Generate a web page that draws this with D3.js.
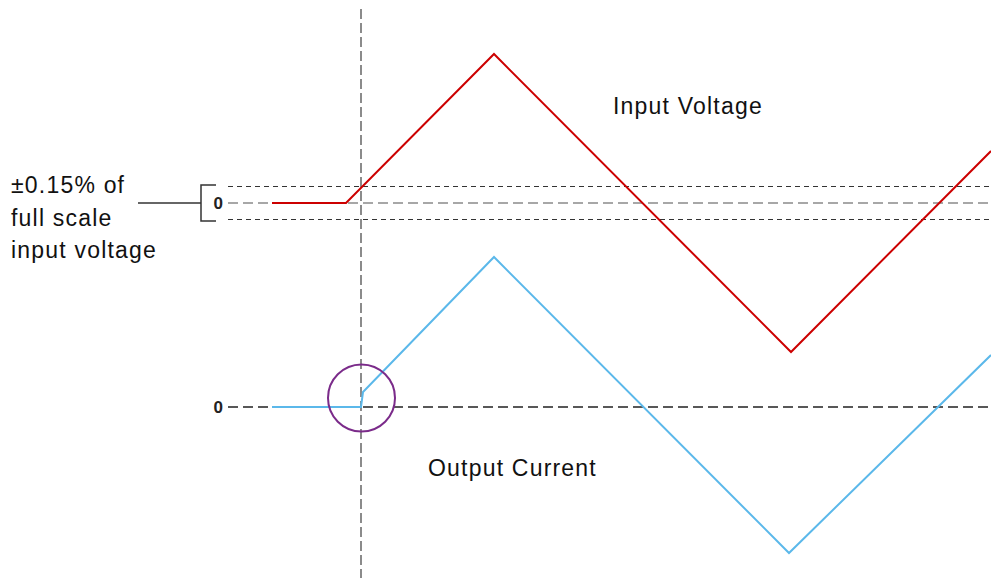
<!DOCTYPE html>
<html>
<head>
<meta charset="utf-8">
<script src="https://cdn.jsdelivr.net/npm/d3@7"></script>
<style>
  body { margin: 0; background: #fff; }
  text { font-family: Arial, "Liberation Sans", sans-serif; }
</style>
</head>
<body>
<div id="chart"></div>
<script>
// time in arbitrary units, t = 0 is the trigger (vertical dashed line)
const voltageTime = [-0.89, -0.15, 1.33, 4.30, 6.30];
const voltageValues = [0, 0, 1.49, -1.49, 0.52];

const currentTime = [-0.89, 0, 0.02, 1.33, 4.28, 6.30];
const currentValues = [0, 0, 0.15, 1.50, -1.46, 0.52];

const band = 0.165; // +-0.15% of full scale, drawn around zero
const zeroTicks = [0];
const labelLines = ["±0.15% of", "full scale", "input voltage"];
const seriesLabels = ["Input Voltage", "Output Current"];

const width = 991, height = 578;

const svg = d3.select("#chart")
  .append("svg")
  .attr("width", width)
  .attr("height", height);

const xScale = d3.scaleLinear()
  .domain([-1, 6.3])
  .range([261, 991]);

const yV = d3.scaleLinear()
  .domain([-2, 2])
  .range([403, 3]);

const yI = d3.scaleLinear()
  .domain([-2, 2])
  .range([607, 207]);

const x0 = 228; // where the dashed reference lines start

// reference lines for voltage band
svg.append("line")
  .attr("x1", x0).attr("x2", width)
  .attr("y1", yV(0)).attr("y2", yV(0))
  .attr("stroke", "#8a8a8a").attr("stroke-width", 1.5)
  .attr("stroke-dasharray", "10,5");

[band, -band].forEach(b => {
  svg.append("line")
    .attr("x1", x0).attr("x2", width)
    .attr("y1", yV(b)).attr("y2", yV(b))
    .attr("stroke", "#333").attr("stroke-width", 1)
    .attr("stroke-dasharray", "5,4");
});

// current zero line
svg.append("line")
  .attr("x1", x0).attr("x2", width)
  .attr("y1", yI(0)).attr("y2", yI(0))
  .attr("stroke", "#222").attr("stroke-width", 1.5)
  .attr("stroke-dasharray", "10,5");

// vertical trigger line
svg.append("line")
  .attr("x1", xScale(0)).attr("x2", xScale(0))
  .attr("y1", 9).attr("y2", height)
  .attr("stroke", "#666").attr("stroke-width", 1.5)
  .attr("stroke-dasharray", "10,4");

// zero labels via axes
const axisV = d3.axisLeft(yV).tickValues(zeroTicks).tickFormat(d3.format("d")).tickSize(0).tickPadding(0);
const axisI = d3.axisLeft(yI).tickValues(zeroTicks).tickFormat(d3.format("d")).tickSize(0).tickPadding(0);

[axisV, axisI].forEach(ax => {
  const g = svg.append("g")
    .attr("transform", `translate(${x0 - 5},0)`)
    .call(ax);
  g.select(".domain").remove();
  g.selectAll("text")
    .style("font-family", "Arial, 'Liberation Sans', sans-serif")
    .style("font-size", "17px")
    .style("font-weight", "bold")
    .attr("fill", "#222");
});

// bracket for the band
const bx = 201;
svg.append("path")
  .attr("d", `M${bx + 15},${yV(band) - 1.5} H${bx} V${yV(-band) + 1.5} H${bx + 15}`)
  .attr("fill", "none").attr("stroke", "#333").attr("stroke-width", 1.5);

svg.append("line")
  .attr("x1", 138).attr("x2", bx)
  .attr("y1", yV(0)).attr("y2", yV(0))
  .attr("stroke", "#333").attr("stroke-width", 1.5);

// left label
svg.append("text")
  .attr("x", 11)
  .attr("y", 193)
  .attr("font-size", 23)
  .attr("letter-spacing", 1.2)
  .attr("fill", "#111")
  .selectAll("tspan")
  .data(labelLines)
  .join("tspan")
  .attr("x", 11)
  .attr("dy", (d, i) => i === 0 ? 0 : 32.5)
  .text(d => d);

// series
const line = d3.line()
  .x(d => xScale(d[0]))
  .y(d => d[1]);

svg.append("path")
  .datum(d3.zip(voltageTime, voltageValues.map(v => yV(v))))
  .attr("fill", "none")
  .attr("stroke", "#cc0000")
  .attr("stroke-width", 2)
  .attr("d", line);

svg.append("path")
  .datum(d3.zip(currentTime, currentValues.map(v => yI(v))))
  .attr("fill", "none")
  .attr("stroke", "#5bb8ea")
  .attr("stroke-width", 2)
  .attr("d", line);

// highlight circle at the step
svg.append("circle")
  .attr("cx", xScale(0.005))
  .attr("cy", yI(0.09))
  .attr("r", 33.5)
  .attr("fill", "none")
  .attr("stroke", "#7b2b8a")
  .attr("stroke-width", 2);

// series labels
svg.append("text")
  .attr("x", 613).attr("y", 114)
  .attr("font-size", 23)
  .attr("letter-spacing", 1.2)
  .attr("fill", "#111")
  .text(seriesLabels[0]);

svg.append("text")
  .attr("x", 428).attr("y", 476)
  .attr("font-size", 23)
  .attr("letter-spacing", 1.2)
  .attr("fill", "#111")
  .text(seriesLabels[1]);
</script>
</body>
</html>
